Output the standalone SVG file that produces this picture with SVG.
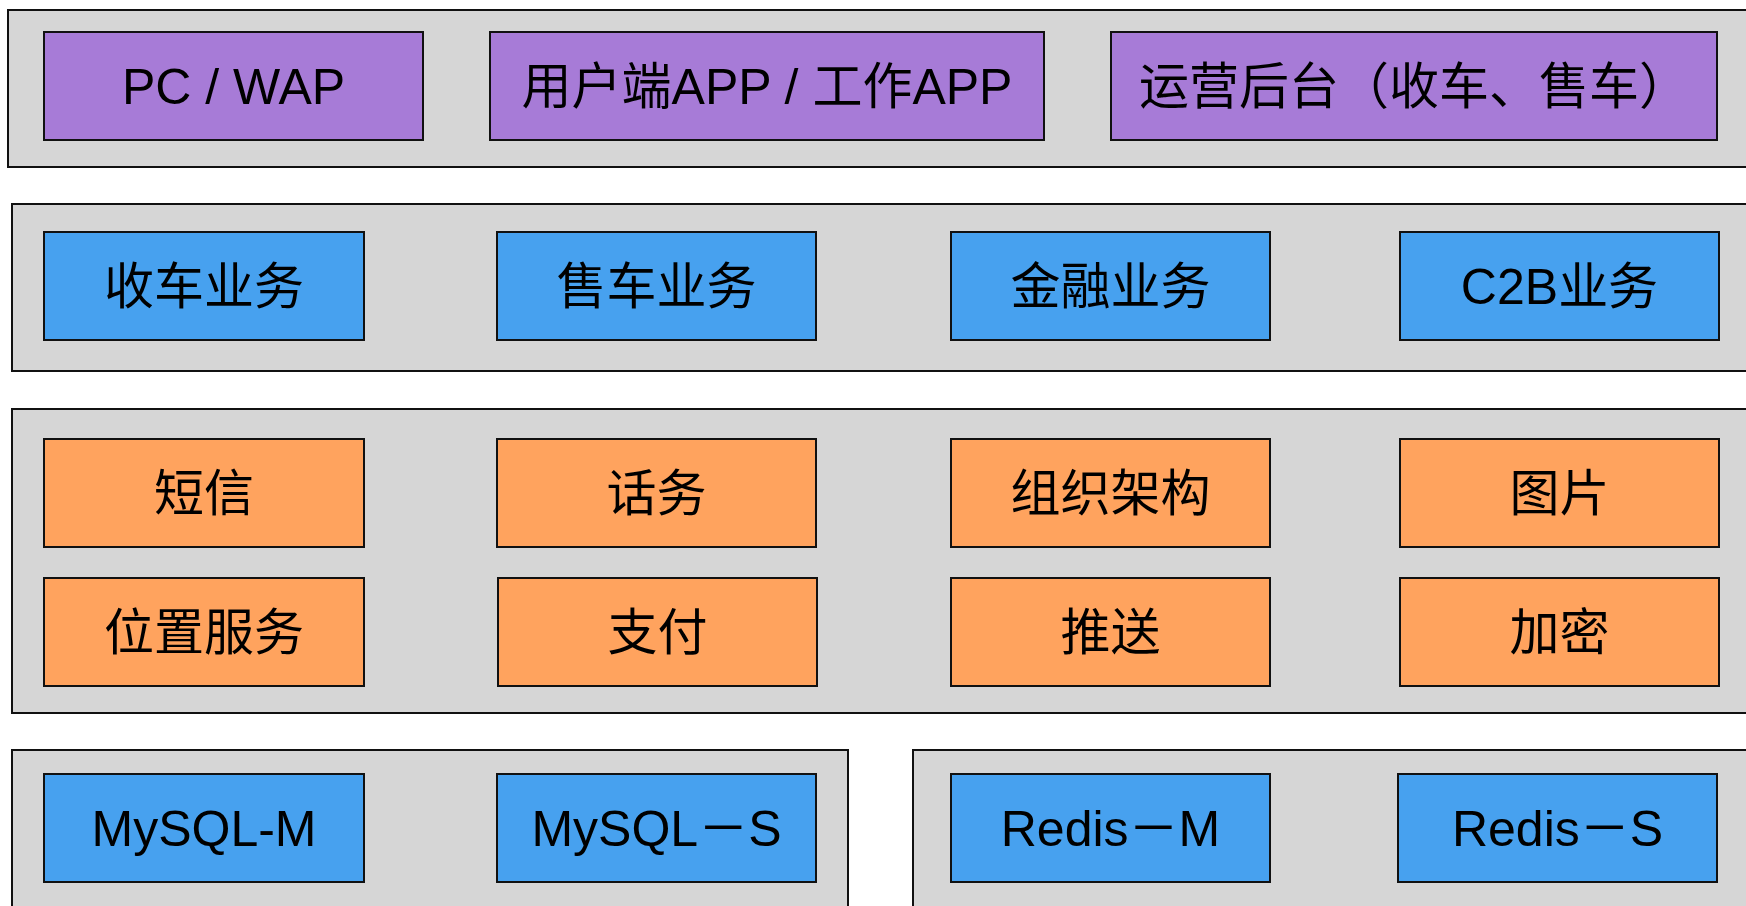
<svg xmlns="http://www.w3.org/2000/svg" width="1746" height="906" viewBox="0 0 1746 906">
<style>
.layer{fill:#d6d6d6;stroke:#111;stroke-width:2}
.box{stroke:#111;stroke-width:2}
.p{fill:#a77bd7}
.b{fill:#47a1ef}
.o{fill:#ffa35e}
text{font-family:"Liberation Sans","Noto Sans CJK SC",sans-serif;font-size:50px;fill:#000;text-anchor:middle}
</style>
<rect width="1746" height="906" fill="#fff"/>
<g id="layers">
<rect id="layer-client" class="layer" x="8" y="10" width="1760" height="157"/>
<rect id="layer-business" class="layer" x="12" y="204" width="1760" height="167"/>
<rect id="layer-service" class="layer" x="12" y="409" width="1760" height="304"/>
<rect id="layer-mysql" class="layer" x="12" y="750" width="836" height="180"/>
<rect id="layer-redis" class="layer" x="913" y="750" width="860" height="180"/>
</g>
<g id="pcwap"><rect class="box p" x="44" y="32" width="379" height="108"/><text x="233.5" y="104">PC / WAP</text></g>
<g id="app"><rect class="box p" x="490" y="32" width="554" height="108"/><text x="767" y="104">用户端APP / 工作APP</text></g>
<g id="ops"><rect class="box p" x="1111" y="32" width="606" height="108"/><text x="1414" y="104">运营后台（收车、售车）</text></g>

<g id="shouche"><rect class="box b" x="44" y="232" width="320" height="108"/><text x="204" y="304">收车业务</text></g>
<g id="shouche2"><rect class="box b" x="497" y="232" width="319" height="108"/><text x="656.5" y="304">售车业务</text></g>
<g id="jinrong"><rect class="box b" x="951" y="232" width="319" height="108"/><text x="1110.5" y="304">金融业务</text></g>
<g id="c2b"><rect class="box b" x="1400" y="232" width="319" height="108"/><text x="1559.5" y="304">C2B业务</text></g>

<g id="sms"><rect class="box o" x="44" y="439" width="320" height="108"/><text x="204" y="511">短信</text></g>
<g id="call"><rect class="box o" x="497" y="439" width="319" height="108"/><text x="656.5" y="511">话务</text></g>
<g id="org"><rect class="box o" x="951" y="439" width="319" height="108"/><text x="1110.5" y="511">组织架构</text></g>
<g id="img"><rect class="box o" x="1400" y="439" width="319" height="108"/><text x="1559.5" y="511">图片</text></g>

<g id="loc"><rect class="box o" x="44" y="578" width="320" height="108"/><text x="204" y="650">位置服务</text></g>
<g id="pay"><rect class="box o" x="498" y="578" width="319" height="108"/><text x="657.5" y="650">支付</text></g>
<g id="push"><rect class="box o" x="951" y="578" width="319" height="108"/><text x="1110.5" y="650">推送</text></g>
<g id="enc"><rect class="box o" x="1400" y="578" width="319" height="108"/><text x="1559.5" y="650">加密</text></g>

<g id="mysqlm"><rect class="box b" x="44" y="774" width="320" height="108"/><text x="204" y="846">MySQL-M</text></g>
<g id="mysqls"><rect class="box b" x="497" y="774" width="319" height="108"/><text x="656.5" y="846">MySQL－S</text></g>
<g id="redism"><rect class="box b" x="951" y="774" width="319" height="108"/><text x="1110.5" y="846">Redis－M</text></g>
<g id="rediss"><rect class="box b" x="1398" y="774" width="319" height="108"/><text x="1557.5" y="846">Redis－S</text></g>
<g id="connectors"></g>
</svg>
